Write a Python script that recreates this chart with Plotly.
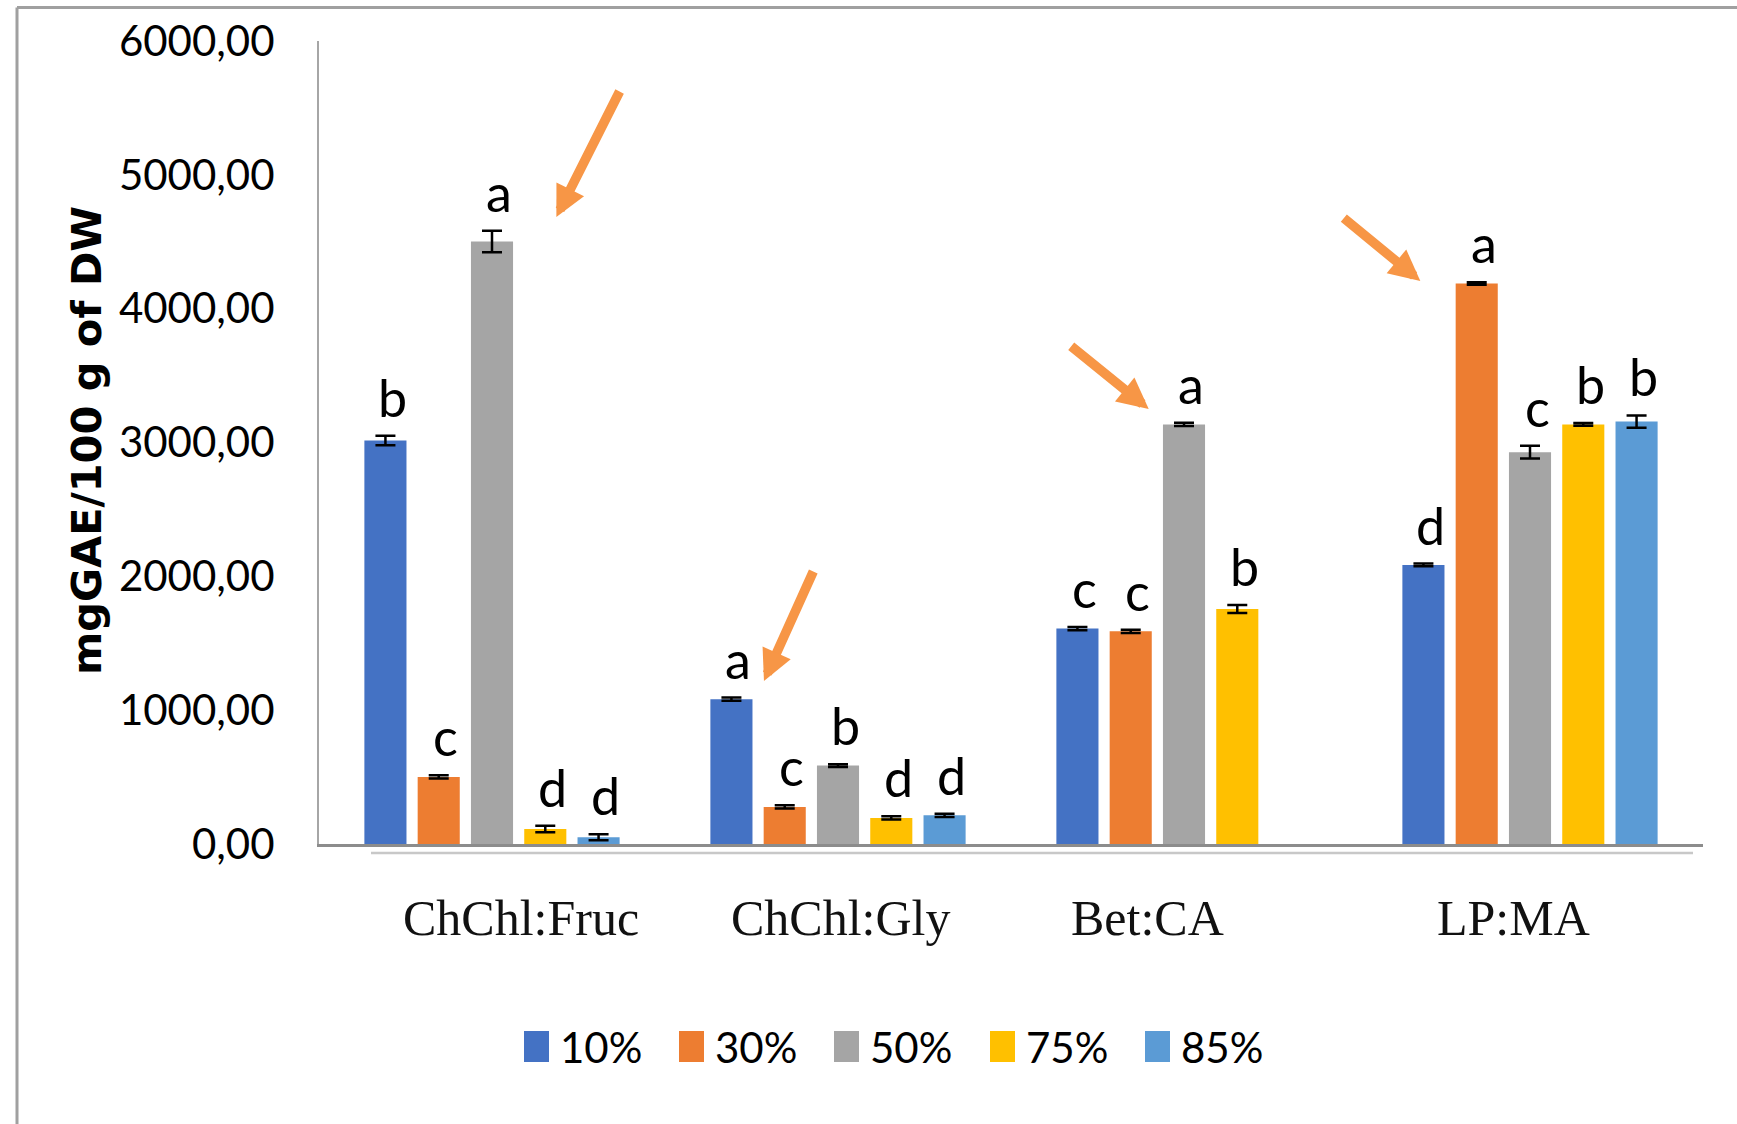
import plotly.graph_objects as go

# ---------------- data ----------------
categories = ["ChChl:Fruc", "ChChl:Gly", "Bet:CA", "LP:MA"]
series_names = ["10%", "30%", "50%", "75%", "85%"]
colors = ["#4472C4", "#ED7D31", "#A5A5A5", "#FFC000", "#5B9BD5"]

v10 = [3015, 1082, 1610, 2085]
v30 = [501, 277, 1589, 4188]
v50 = [4502, 586, 3135, 2928]
v75 = [112, 195, 1756, 3135]
v85 = [50, 214, None, 3156]

e10 = [35, 12, 12, 10]
e30 = [12, 12, 12, 10]
e50 = [80, 10, 12, 48]
e75 = [25, 12, 30, 10]
e85 = [22, 12, None, 46]

l10 = ["b", "a", "c", "d"]
l30 = ["c", "c", "c", "a"]
l50 = ["a", "b", "a", "c"]
l75 = ["d", "d", "b", "b"]
l85 = ["d", "d", None, "b"]

y_ticks = [0, 1000, 2000, 3000, 4000, 5000, 6000]
y_title = "mgGAE/100 g of DW"

all_vals = [v10, v30, v50, v75, v85]
all_errs = [e10, e30, e50, e75, e85]
all_lets = [l10, l30, l50, l75, l85]

# ---------------- layout constants ----------------
W, H = 1737, 1124
L, R, T, B = 319, 34, 41, 280
PW, PH = W - L - R, H - T - B
BARGAP = 0.23
NUM_FONT = "Lato, 'Open Sans', sans-serif"


def px(xp, yp):
    """convert page pixel coords to paper coords"""
    return (xp - L) / PW, (H - B - yp) / PH


fig = go.Figure()
for name, col, vals, errs in zip(series_names, colors, all_vals, all_errs):
    fig.add_trace(go.Bar(
        name=name, x=categories, y=vals,
        marker=dict(color=col, line=dict(width=0)),
        error_y=dict(type="data", array=[e if e is not None else 0 for e in errs],
                     visible=True, color="black", thickness=2.5, width=10),
        showlegend=False,
    ))

annotations = []
shapes = []

# significance letters
slot = (1 - BARGAP) / len(series_names)
for i, (vals, errs, lets) in enumerate(zip(all_vals, all_errs, all_lets)):
    for j, (v, e, t) in enumerate(zip(vals, errs, lets)):
        if v is None or t is None:
            continue
        annotations.append(dict(
            x=j + (i - 2) * slot, y=v + e, xref="x", yref="y",
            text=t, showarrow=False, yanchor="bottom", xanchor="center",
            xshift=7, yshift=6,
            font=dict(family=NUM_FONT, size=52, color="black"),
        ))

# category labels (serif, slightly offset as in the source image)
label_offsets = [0.085, 0.006, -0.105, -0.047]
for j, (c, off) in enumerate(zip(categories, label_offsets)):
    annotations.append(dict(
        x=j + off, y=px(0, 918)[1], xref="x", yref="paper",
        text=c, showarrow=False, xanchor="center", yanchor="middle",
        font=dict(family="'Liberation Serif', 'DejaVu Serif', serif", size=50, color="#111111"),
    ))

# y-axis title
tx_, ty_ = px(86, 441)
annotations.append(dict(
    x=tx_, y=ty_, xref="paper", yref="paper", text="<b>" + y_title + "</b>",
    textangle=-90, showarrow=False, xanchor="center", yanchor="middle",
    font=dict(family="'DejaVu Sans', Verdana, sans-serif", size=41.5, color="black"),
))

# orange arrows: (tip x in category units, tip y in data units, tail dx, tail dy in px)
arrows = [(0.186, 4685, 64, -127), (0.786, 1218, 50, -111),
          (1.898, 3250, -79, -64), (2.683, 4207, -78, -64)]
for ax_, ay_, dx, dy in arrows:
    annotations.append(dict(
        x=ax_, y=ay_, xref="x", yref="y", ax=dx, ay=dy,
        text="", showarrow=True, arrowhead=2, arrowwidth=9.5, arrowsize=0.65,
        arrowcolor="#F79646",
    ))

# manual legend
leg_x = [524, 679, 834, 990, 1145]
for name, col, lx in zip(series_names, colors, leg_x):
    x0, y0 = px(lx, 1062)
    x1, y1 = px(lx + 25, 1031)
    shapes.append(dict(type="rect", xref="paper", yref="paper", x0=x0, x1=x1, y0=y0, y1=y1,
                       fillcolor=col, line=dict(width=0)))
    tx, ty = px(lx + 34, 1047)
    annotations.append(dict(x=tx, y=ty, xref="paper", yref="paper", text=name,
                            showarrow=False, xanchor="left", yanchor="middle",
                            font=dict(family=NUM_FONT, size=42, color="black")))

# outer border (left and top) of the source image
bx, by = px(17, 7.5)
bx2, by2 = px(W + 5, H + 5)
shapes.append(dict(type="line", xref="paper", yref="paper", x0=bx, x1=bx, y0=by, y1=by2,
                   line=dict(color="#A0A0A0", width=3)))
shapes.append(dict(type="line", xref="paper", yref="paper", x0=bx, x1=bx2, y0=by, y1=by,
                   line=dict(color="#A0A0A0", width=3)))
# faint second line under x axis
sx0, sy = px(371, 853)
sx1, _ = px(1693, 853)
shapes.append(dict(type="line", xref="paper", yref="paper", x0=sx0, x1=sx1, y0=sy, y1=sy,
                   line=dict(color="#C8C8C8", width=2.5)))

fig.update_layout(
    width=W, height=H,
    margin=dict(l=L, r=R, t=T, b=B, pad=0),
    paper_bgcolor="white", plot_bgcolor="white",
    barmode="group", bargap=BARGAP, bargroupgap=0.21,
    separators=",.",
    annotations=annotations, shapes=shapes,
    xaxis=dict(type="category", range=[-0.5, 3.5], showticklabels=False, ticks="",
               showline=True, linecolor="#8C8C8C", linewidth=3, showgrid=False, zeroline=False),
    yaxis=dict(range=[0, 6000], tickvals=y_ticks, tickformat=".2f", ticks="",
               ticklabelstandoff=34,
               showline=True, linecolor="#A6A6A6", linewidth=2, showgrid=False, zeroline=False,
               tickfont=dict(family=NUM_FONT, size=42, color="black")),
)

fig.write_html("out.html", config={"displayModeBar": False},
               post_script="document.body.style.margin='0';document.body.style.overflow='hidden';")
